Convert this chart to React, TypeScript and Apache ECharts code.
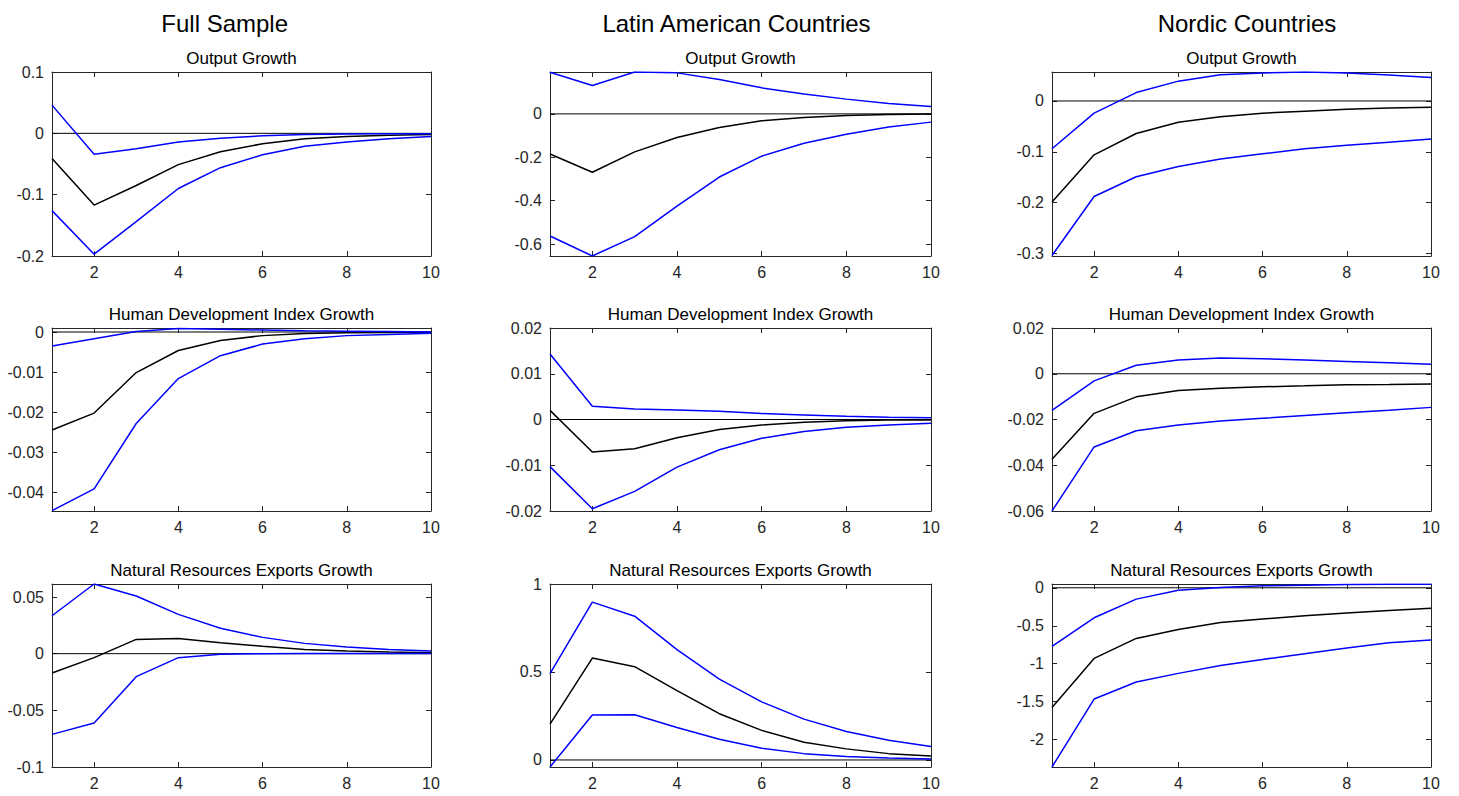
import React, { useEffect, useRef } from "react";
import * as echarts from "echarts";

// Horizons
const horizons = [1, 2, 3, 4, 5, 6, 7, 8, 9, 10];
const xTicks = [2, 4, 6, 8, 10];

// Column and row titles
const columnTitles = ["Full Sample", "Latin American Countries", "Nordic Countries"];
const rowTitles = ["Output Growth", "Human Development Index Growth", "Natural Resources Exports Growth"];

// Full sample
const fsOutMid = [-0.041, -0.117, -0.085, -0.051, -0.030, -0.017, -0.009, -0.005, -0.003, -0.002];
const fsOutUp = [0.046, -0.034, -0.025, -0.014, -0.008, -0.004, -0.002, -0.001, -0.0005, -0.0005];
const fsOutLo = [-0.126, -0.197, -0.144, -0.090, -0.056, -0.035, -0.021, -0.014, -0.009, -0.005];

const fsHdiMid = [-0.0244, -0.0202, -0.0101, -0.0046, -0.0021, -0.0009, -0.0004, -0.0002, -0.0001, 0];
const fsHdiUp = [-0.0035, -0.0017, 0.0001, 0.0009, 0.0007, 0.0005, 0.0003, 0.0002, 0.0001, 0];
const fsHdiLo = [-0.0445, -0.0391, -0.0228, -0.0116, -0.0059, -0.003, -0.0017, -0.0009, -0.0006, -0.0003];

const fsNreMid = [-0.017, -0.0035, 0.0126, 0.0135, 0.0097, 0.0065, 0.0038, 0.0024, 0.0015, 0.0009];
const fsNreUp = [0.0335, 0.0615, 0.0509, 0.0347, 0.0224, 0.0144, 0.0091, 0.0059, 0.0038, 0.0024];
const fsNreLo = [-0.0712, -0.0612, -0.0203, -0.0035, -0.0006, 0, 0.0001, 0.0001, 0.0001, 0.0001];

// Latin American countries
const laOutMid = [-0.185, -0.269, -0.175, -0.109, -0.063, -0.032, -0.017, -0.008, -0.003, 0];
const laOutUp = [0.192, 0.131, 0.193, 0.189, 0.158, 0.12, 0.092, 0.068, 0.048, 0.034];
const laOutLo = [-0.563, -0.655, -0.566, -0.425, -0.291, -0.195, -0.135, -0.094, -0.06, -0.038];

const laHdiMid = [0.002, -0.0071, -0.0064, -0.004, -0.0022, -0.0012, -0.0006, -0.0003, -0.0001, -0.0001];
const laHdiUp = [0.0143, 0.0029, 0.0023, 0.0021, 0.0018, 0.0013, 0.001, 0.0007, 0.0005, 0.0004];
const laHdiLo = [-0.0103, -0.0195, -0.0157, -0.0104, -0.0066, -0.0041, -0.0026, -0.0017, -0.0012, -0.0008];

const laNreMid = [0.204, 0.579, 0.53, 0.394, 0.263, 0.168, 0.101, 0.063, 0.036, 0.023];
const laNreUp = [0.491, 0.897, 0.817, 0.627, 0.459, 0.33, 0.232, 0.162, 0.112, 0.076];
const laNreLo = [-0.04, 0.255, 0.257, 0.185, 0.118, 0.067, 0.036, 0.019, 0.011, 0.006];

// Nordic countries
const noOutMid = [-0.199, -0.106, -0.064, -0.042, -0.031, -0.024, -0.020, -0.0165, -0.014, -0.0125];
const noOutUp = [-0.094, -0.024, 0.0165, 0.039, 0.0515, 0.055, 0.057, 0.055, 0.051, 0.046];
const noOutLo = [-0.304, -0.188, -0.149, -0.129, -0.114, -0.104, -0.094, -0.087, -0.081, -0.075];

const noHdiMid = [-0.0374, -0.0173, -0.0101, -0.0073, -0.0063, -0.0057, -0.0053, -0.0048, -0.0047, -0.0045];
const noHdiUp = [-0.016, -0.0031, 0.0037, 0.006, 0.0069, 0.0066, 0.006, 0.0054, 0.0048, 0.0042];
const noHdiLo = [-0.06, -0.032, -0.0249, -0.0224, -0.0207, -0.0195, -0.0183, -0.0171, -0.016, -0.0147];

const noNreMid = [-1.575, -0.93, -0.667, -0.548, -0.456, -0.412, -0.368, -0.333, -0.298, -0.268];
const noNreUp = [-0.772, -0.395, -0.149, -0.031, 0.004, 0.026, 0.035, 0.044, 0.048, 0.048];
const noNreLo = [-2.36, -1.465, -1.241, -1.127, -1.022, -0.943, -0.868, -0.794, -0.724, -0.689];

// Y axis limits and tick labels (row-major: row = variable, col = sample)
const yLimits = [
  [-0.2, 0.1], [-0.655, 0.193], [-0.305, 0.057],
  [-0.0446, 0.001], [-0.02, 0.02], [-0.06, 0.02],
  [-0.1, 0.0615], [-0.04, 1], [-2.36, 0.05],
];
const yTickLists = [
  [-0.2, -0.1, 0, 0.1], [-0.6, -0.4, -0.2, 0], [-0.3, -0.2, -0.1, 0],
  [-0.04, -0.03, -0.02, -0.01, 0], [-0.02, -0.01, 0, 0.01, 0.02], [-0.06, -0.04, -0.02, 0, 0.02],
  [-0.1, -0.05, 0, 0.05], [0, 0.5, 1], [-2, -1.5, -1, -0.5, 0],
];

const panelData = [
  [fsOutMid, fsOutLo, fsOutUp], [laOutMid, laOutLo, laOutUp], [noOutMid, noOutLo, noOutUp],
  [fsHdiMid, fsHdiLo, fsHdiUp], [laHdiMid, laHdiLo, laHdiUp], [noHdiMid, noHdiLo, noHdiUp],
  [fsNreMid, fsNreLo, fsNreUp], [laNreMid, laNreLo, laNreUp], [noNreMid, noNreLo, noNreUp],
];

const FONT = "'Liberation Sans', Arial, Helvetica, sans-serif";
const AX = "#262626";

function buildOption() {
  const colLeft = [52, 550, 1052];
  const colW = [379, 381, 379];
  const rowTop = [72, 328, 584];
  const rowH = [184, 183, 183];
  const titleY = [58.4, 314.8, 570.4];
  const headerX = [224.7, 736.5, 1247];

  const grid: any[] = [];
  const xAxis: any[] = [];
  const yAxis: any[] = [];
  const series: any[] = [];
  const graphic: any[] = [];

  for (let c = 0; c < 3; c++) {
    graphic.push({
      type: "text",
      silent: true,
      style: {
        text: columnTitles[c],
        x: headerX[c],
        y: 23.4,
        align: "center",
        verticalAlign: "middle",
        textAlign: "center",
        textVerticalAlign: "middle",
        fill: "#000",
        font: `24px ${FONT}`,
      },
    });
  }

  for (let p = 0; p < 9; p++) {
    const r = Math.floor(p / 3);
    const c = p % 3;
    grid.push({ left: colLeft[c], top: rowTop[r], width: colW[c], height: rowH[r] });
    graphic.push({
      type: "text",
      silent: true,
      style: {
        text: rowTitles[r],
        x: colLeft[c] + colW[c] / 2,
        y: titleY[r],
        align: "center",
        verticalAlign: "middle",
        textAlign: "center",
        textVerticalAlign: "middle",
        fill: "#000",
        font: `17px ${FONT}`,
      },
    });
    const line = { show: true, onZero: false, lineStyle: { color: AX, width: 1 } };
    const tick = (vals: number[]) => ({
      show: true,
      inside: true,
      length: 5,
      customValues: vals,
      lineStyle: { color: AX, width: 1 },
    });
    const [ymin, ymax] = yLimits[p];
    const yTicks = yTickLists[p];
    xAxis.push({
      type: "value", gridIndex: p, min: 1, max: 10, position: "bottom",
      axisLine: line, axisTick: tick(xTicks), splitLine: { show: false },
      axisLabel: { customValues: xTicks, color: AX, fontSize: 16, fontFamily: FONT, margin: 8 },
    });
    xAxis.push({
      type: "value", gridIndex: p, min: 1, max: 10, position: "top",
      axisLine: line, axisTick: tick(xTicks), splitLine: { show: false },
      axisLabel: { show: false },
    });
    yAxis.push({
      type: "value", gridIndex: p, min: ymin, max: ymax, position: "left",
      axisLine: line, axisTick: tick(yTicks), splitLine: { show: false },
      axisLabel: { customValues: yTicks, color: AX, fontSize: 16, fontFamily: FONT, margin: 8 },
    });
    yAxis.push({
      type: "value", gridIndex: p, min: ymin, max: ymax, position: "right",
      axisLine: line, axisTick: tick(yTicks), splitLine: { show: false },
      axisLabel: { show: false },
    });
    const [mid, lo, up] = panelData[p];
    const common = {
      type: "line", xAxisIndex: p * 2, yAxisIndex: p * 2, symbol: "none",
      showSymbol: false, silent: true, clip: true,
    };
    series.push({
      ...common,
      data: [[horizons[0], 0], [horizons[horizons.length - 1], 0]],
      lineStyle: { color: "#000", width: 1 },
    });
    series.push({ ...common, data: horizons.map((h, i) => [h, mid[i]]), lineStyle: { color: "#000", width: 1.5 } });
    series.push({ ...common, data: horizons.map((h, i) => [h, lo[i]]), lineStyle: { color: "#0000ff", width: 1.5 } });
    series.push({ ...common, data: horizons.map((h, i) => [h, up[i]]), lineStyle: { color: "#0000ff", width: 1.5 } });
  }

  return {
    animation: false,
    backgroundColor: "#ffffff",
    grid,
    xAxis,
    yAxis,
    series,
    graphic,
  };
}

export default function App() {
  const ref = useRef<HTMLDivElement>(null);
  useEffect(() => {
    if (!ref.current) return;
    const chart = echarts.init(ref.current, undefined, { renderer: "svg" });
    chart.setOption(buildOption() as any);
    return () => chart.dispose();
  }, []);
  return (
    <div
      ref={ref}
      style={{ position: "fixed", left: 0, top: 0, width: 1459, height: 796, background: "#fff" }}
    />
  );
}
